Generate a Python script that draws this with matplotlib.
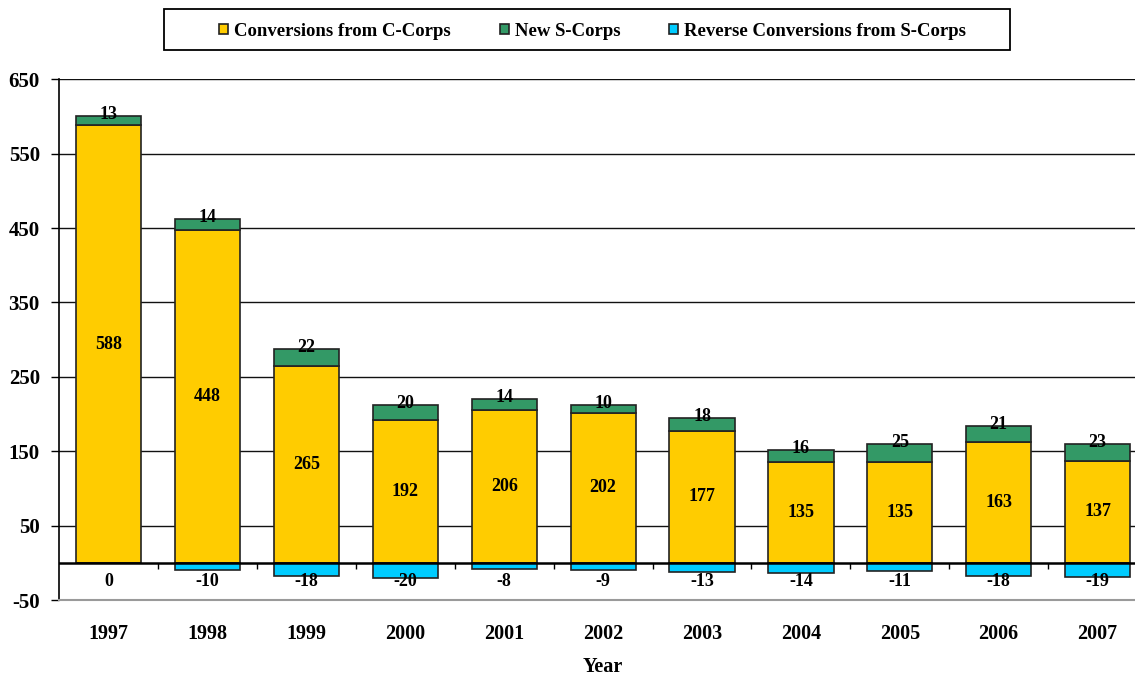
import matplotlib
matplotlib.use("Agg")
import matplotlib.pyplot as plt
from matplotlib.patches import Rectangle
import numpy as np

years = ["1997", "1998", "1999", "2000", "2001", "2002", "2003", "2004", "2005", "2006", "2007"]
conversions = [588, 448, 265, 192, 206, 202, 177, 135, 135, 163, 137]
new_scorps = [13, 14, 22, 20, 14, 10, 18, 16, 25, 21, 23]
reverse = [0, -10, -18, -20, -8, -9, -13, -14, -11, -18, -19]
series_names = ["Conversions from C-Corps", "New S-Corps", "Reverse Conversions from S-Corps"]
yticks = [-50, 50, 150, 250, 350, 450, 550, 650]

c_yellow = "#FFCC00"
c_green = "#339966"
c_blue = "#00CCFF"
edge = "#222222"

plt.rcParams['font.family'] = ['Liberation Serif', 'DejaVu Serif']
plt.rcParams['font.weight'] = 'bold'

W, H = 1135, 682
fig = plt.figure(figsize=(W / 100, H / 100), dpi=100)
ax = fig.add_axes([59.3 / W, 82 / H, (1147 - 59.3) / W, (600 - 79.3) / H])

x = np.arange(len(years))
w = 0.66
conv = np.array(conversions)
new = np.array(new_scorps)
rev = np.array(reverse)

b1 = ax.bar(x, conv, w, color=c_yellow, edgecolor=edge, linewidth=1.2, zorder=3, label=series_names[0])
b2 = ax.bar(x, new, w, bottom=conv, color=c_green, edgecolor=edge, linewidth=1.2, zorder=3, label=series_names[1])
b3 = ax.bar(x, rev, w, color=c_blue, edgecolor=edge, linewidth=1.2, zorder=3, label=series_names[2])

lab_fs = 13
for xi, c, n, r in zip(x, conv, new, rev):
    ax.text(xi, c / 2, f"{c}", ha='center', va='center', fontsize=lab_fs, fontweight='bold', zorder=5)
    ax.text(xi, c + n + 2, f"{n}", ha='center', va='center', fontsize=lab_fs, fontweight='bold', zorder=5)
    ax.text(xi, -25, f"{r}", ha='center', va='center', fontsize=lab_fs, fontweight='bold', zorder=5)

ax.set_xlim(-0.5, len(years) - 0.5)
ax.set_ylim(-50, 650)
ax.set_yticks(yticks)
ax.set_yticklabels([str(v) for v in yticks], fontsize=15, fontweight='bold')
ax.tick_params(axis='y', length=6, width=1, pad=8, color='black')

ax.set_xticks(x)
ax.set_xticklabels(years, fontsize=14.5, fontweight='bold')
ax.tick_params(axis='x', length=0, pad=17)
ax.set_xlabel("Year", fontsize=14.5, fontweight='bold', labelpad=10)

for gv in yticks[1:]:
    ax.axhline(gv, color='#111111', linewidth=1.0, zorder=1)
ax.axhline(0, color='black', linewidth=1.8, zorder=4)
bounds = np.arange(len(years) + 1) - 0.5
ax.vlines(bounds[1:-1], -8, 0, color='black', linewidth=1.0, zorder=4)

ax.spines['top'].set_visible(False)
ax.spines['right'].set_visible(False)
ax.spines['left'].set_color('black')
ax.spines['left'].set_linewidth(1.2)
ax.spines['bottom'].set_color('#9a9a9a')
ax.spines['bottom'].set_linewidth(1.5)

leg = fig.legend(handles=[b1, b2, b3], labels=series_names, loc='center',
                 bbox_to_anchor=(592.5 / W, 1 - 31 / H), ncol=3, frameon=False,
                 handlelength=0.5, handleheight=0.5, handletextpad=0.3,
                 columnspacing=2.6, borderpad=0.2,
                 prop={'weight': 'bold', 'size': 13.5})
fig.add_artist(Rectangle((164.3 / W, 1 - 50 / H), (1010 - 164.3) / W, (50 - 9) / H,
                         transform=fig.transFigure, fill=False, edgecolor='black',
                         linewidth=1.3))

fig.savefig("out.png", dpi=100)
